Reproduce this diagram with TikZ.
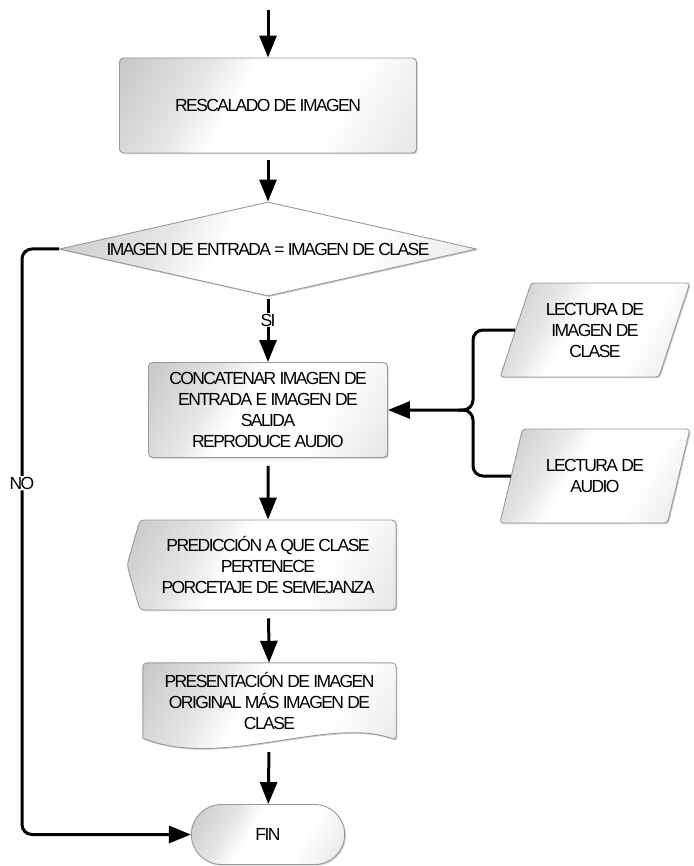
\documentclass[tikz,border=0pt]{standalone}
\usepackage{fontspec}
\setmainfont{Liberation Sans}[LetterSpace=-9]
\usepackage{tikz}
\usetikzlibrary{shapes.geometric,shapes.symbols,shapes.misc,arrows.meta,shadows,backgrounds,calc}
\pgfdeclarehorizontalshading{boxshade}{100bp}{color(0bp)=(gray!65); color(34bp)=(gray!20); color(43bp)=(white); color(64bp)=(white); color(100bp)=(gray!35)}

\begin{document}
\begin{tikzpicture}[x=1pt,y=-1pt,
    every node/.style={align=center,font=\fontsize{17.5}{21}\selectfont},
    block/.style={draw=gray!80,line width=0.9pt,shade,shading=boxshade,shading angle=-30,
        drop shadow={shadow xshift=1.2pt,shadow yshift=-1.2pt,opacity=0.4}},
    proc/.style={block,rectangle,rounded corners=4pt,inner sep=2pt},
    inout/.style={block,trapezium,trapezium left angle=67,trapezium right angle=113,
        trapezium stretches=true,minimum width=190pt,minimum height=94pt,rounded corners=3pt,inner sep=2pt},
    flow/.style={line width=3pt,-{Triangle[length=22pt,width=17pt]}},
    tag/.style={fill=white,inner sep=1pt}]
  \useasboundingbox (0,0) rectangle (693,866);
  \coordinate (start) at (268,10);
  \node[proc,minimum width=297pt,minimum height=95pt] (resc) at (268,105.5) {RESCALADO DE IMAGEN};
  \node[block,diamond,aspect=4.4,inner sep=0pt,minimum width=417pt,minimum height=94pt] (dec) at (268,249) {IMAGEN DE ENTRADA = IMAGEN DE CLASE};
  \node[proc,minimum width=239pt,minimum height=95pt] (concat) at (268,410) {CONCATENAR IMAGEN DE\\ENTRADA E IMAGEN DE\\SALIDA\\REPRODUCE AUDIO};
  \node[inout] (lecImg) at (595,330) {LECTURA DE\\IMAGEN DE\\CLASE};
  \node[inout] (lecAud) at (595,476) {LECTURA DE\\AUDIO};
  \node[block,signal,signal to=west,signal from=nowhere,signal pointer angle=148,rounded corners=4pt,
      minimum width=269pt,minimum height=90pt,inner sep=2pt] (pred) at (268,565) {PREDICCIÓN A QUE CLASE\\PERTENECE\\PORCETAJE DE SEMEJANZA};
  \node[minimum width=253pt,minimum height=75pt,inner sep=2pt] (presen) at (269.5,700.5) {PRESENTACIÓN DE IMAGEN\\ORIGINAL MÁS IMAGEN DE\\CLASE};
  \begin{scope}[on background layer]
    \path[block,rounded corners=4pt] (presen.south west) -- (presen.north west) -- (presen.north east) -- ([yshift=-2pt]presen.south east)
      [sharp corners] .. controls ++(-66,-25) and ($(presen.south west)+(77,32)$) .. (presen.south west) -- cycle;
  \end{scope}
  \node[block,rounded rectangle,minimum width=160pt,minimum height=60pt] (fin) at (268,834.5) {FIN};
  \coordinate (brk) at (473,410);
  \coordinate (noturn) at (22,834.5);
  \draw[flow] (start) -- (resc);
  \draw[flow,shorten <=7pt] (resc) -- (dec);
  \draw[flow,shorten <=3pt] (dec) -- node[tag,pos=0.36]{SI} (concat);
  \draw[flow,rounded corners=10pt] (lecImg.west) -| (brk) -- (concat.east);
  \draw[line width=3pt,rounded corners=10pt] (lecAud.west) -| (brk) -- ++(-15,0);
  \draw[flow,shorten <=8pt] (concat) -- (pred);
  \draw[flow,shorten <=8pt] (pred) -- (presen);
  \draw[flow,shorten <=14pt] (presen) -- (fin);
  \draw[flow,rounded corners=10pt] (dec.west) -| node[tag,pos=0.7]{NO} (noturn) -- (fin.west);
\end{tikzpicture}
\end{document}
